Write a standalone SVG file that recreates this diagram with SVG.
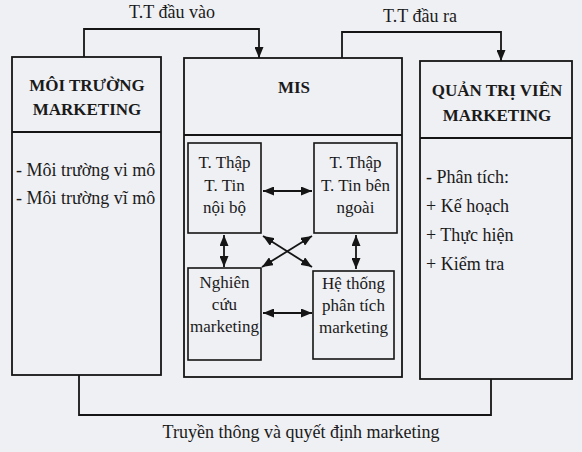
<svg xmlns="http://www.w3.org/2000/svg" width="582" height="452" viewBox="0 0 582 452">
<defs>
<marker id="ah" viewBox="0 0 11 9" refX="11" refY="4.5" markerWidth="11" markerHeight="9" markerUnits="userSpaceOnUse" orient="auto-start-reverse">
<path d="M0,0 L11,4.5 L0,9 z" fill="#151515"/>
</marker>
</defs>
<style>
.box{fill:none;stroke:#151515;stroke-width:1.8}
.ibox{fill:none;stroke:#151515;stroke-width:1.6}
.ln{fill:none;stroke:#151515;stroke-width:1.8}
.t{font-family:"Liberation Serif","DejaVu Serif",serif;font-size:18px;fill:#1a1a1a}
.s{font-family:"Liberation Serif","DejaVu Serif",serif;font-size:17px;fill:#1a1a1a;text-anchor:middle}
.h{font-family:"Liberation Serif","DejaVu Serif",serif;font-size:17px;font-weight:bold;fill:#1a1a1a;text-anchor:middle}
.c{text-anchor:middle}
</style>
<rect width="582" height="452" fill="#eff0f4"/>

<g id="connectors">
<path class="ln" d="M84,57 V29 H259 V58" marker-end="url(#ah)"/>
<path class="ln" d="M342,58 V32 H501 V61" marker-end="url(#ah)"/>
<path class="ln" d="M79,375 V415 H491 V379"/>
<line class="ln" x1="263" y1="191" x2="312" y2="191" marker-start="url(#ah)" marker-end="url(#ah)"/>
<line class="ln" x1="263" y1="313" x2="312" y2="313" marker-start="url(#ah)" marker-end="url(#ah)"/>
<line class="ln" x1="224" y1="235" x2="224" y2="267" marker-start="url(#ah)" marker-end="url(#ah)"/>
<line class="ln" x1="356" y1="235" x2="356" y2="269" marker-start="url(#ah)" marker-end="url(#ah)"/>
<line class="ln" x1="263" y1="236" x2="312" y2="267" marker-start="url(#ah)" marker-end="url(#ah)"/>
<line class="ln" x1="312" y1="236" x2="262" y2="267" marker-start="url(#ah)" marker-end="url(#ah)"/>
</g>

<text class="t c" x="172" y="18">T.T đầu vào</text>
<text class="t c" x="420" y="22">T.T đầu ra</text>
<text class="t c" x="301" y="438">Truyền thông và quyết định marketing</text>

<g id="moi-truong">
<rect class="box" x="12" y="57" width="149" height="318"/>
<line class="box" x1="12" y1="132" x2="161" y2="132"/>
<text class="h" x="87" y="91">MÔI TRƯỜNG</text>
<text class="h" x="87" y="115">MARKETING</text>
<text class="t" x="16" y="176">- Môi trường vi mô</text>
<text class="t" x="16" y="204">- Môi trường vĩ mô</text>
</g>

<g id="mis">
<rect class="box" x="184" y="58" width="218" height="319"/>
<line class="box" x1="184" y1="135" x2="402" y2="135"/>
<text class="h" x="294" y="93">MIS</text>
</g>

<g id="thu-thap-noi-bo">
<rect class="ibox" x="188" y="143" width="73" height="90"/>
<text class="s" x="224.5" y="168">T. Thập</text>
<text class="s" x="224.5" y="191">T. Tin</text>
<text class="s" x="224.5" y="213">nội bộ</text>
</g>

<g id="thu-thap-ben-ngoai">
<rect class="ibox" x="314" y="143" width="83" height="90"/>
<text class="s" x="355.5" y="168">T. Thập</text>
<text class="s" x="355.5" y="191">T. Tin bên</text>
<text class="s" x="355.5" y="213">ngoài</text>
</g>

<g id="nghien-cuu">
<rect class="ibox" x="188" y="268" width="73" height="92"/>
<text class="s" x="224.5" y="288">Nghiên</text>
<text class="s" x="224.5" y="310">cứu</text>
<text class="s" x="224.5" y="332">marketing</text>
</g>

<g id="he-thong-phan-tich">
<rect class="ibox" x="313" y="271" width="81" height="88"/>
<text class="s" x="353.5" y="289">Hệ thống</text>
<text class="s" x="353.5" y="311">phân tích</text>
<text class="s" x="353.5" y="333">marketing</text>
</g>

<g id="quan-tri-vien">
<rect class="box" x="420" y="61" width="152" height="318"/>
<line class="box" x1="420" y1="138" x2="572" y2="138"/>
<text class="h" x="497" y="96">QUẢN TRỊ VIÊN</text>
<text class="h" x="497" y="121">MARKETING</text>
<text class="t" x="426" y="183">- Phân tích:</text>
<text class="t" x="426" y="212">+ Kế hoạch</text>
<text class="t" x="426" y="241">+ Thực hiện</text>
<text class="t" x="426" y="270">+ Kiểm tra</text>
</g>
</svg>
